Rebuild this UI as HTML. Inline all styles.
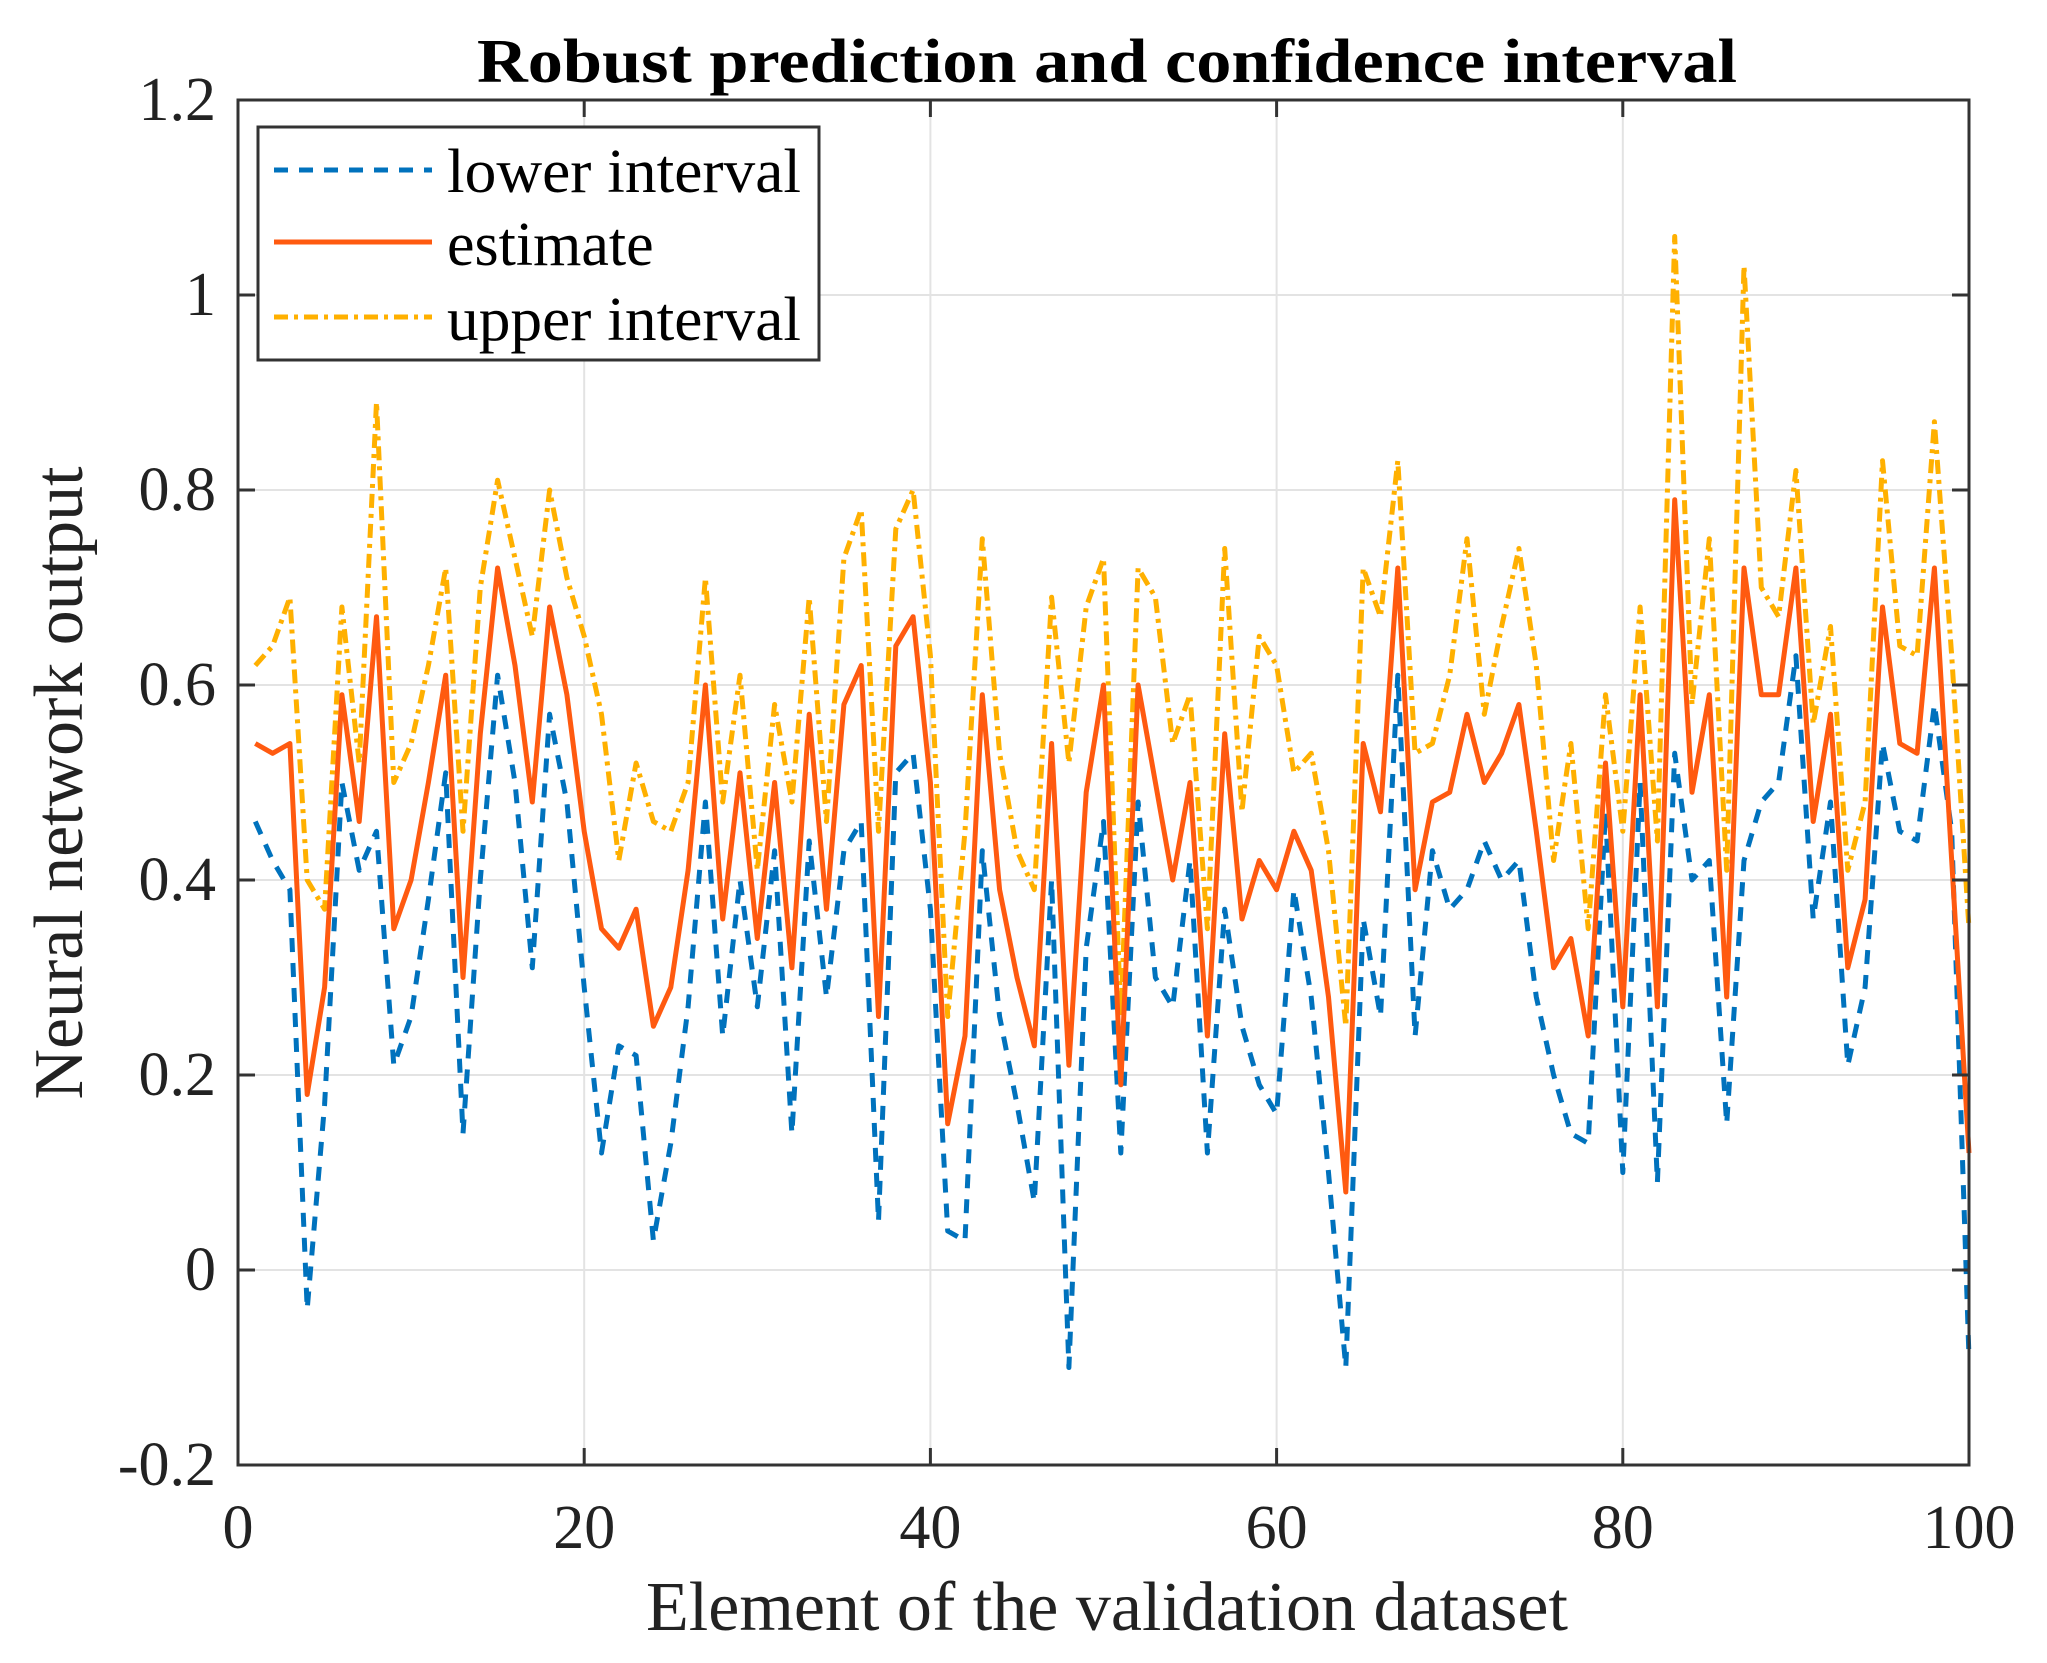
<!DOCTYPE html>
<html><head><meta charset="utf-8"><style>
html,body{margin:0;padding:0;background:#fff;}
svg{display:block;}
text{font-family:"Liberation Serif",serif;fill:#222;}
</style></head><body>
<svg id="s" width="2047" height="1663" viewBox="0 0 2047 1663" xmlns="http://www.w3.org/2000/svg">
<rect width="2047" height="1663" fill="#fff"/>
<g id="grid" stroke="#e3e3e3" stroke-width="2"></g>
<g id="data" fill="none" stroke-width="5" stroke-linejoin="round"></g>
<g id="axes" stroke="#333" stroke-width="3" fill="none"></g>
<g id="labels" font-size="62" text-anchor="middle"></g>
<text x="1107" y="82" font-size="62" font-weight="bold" text-anchor="middle" textLength="1260" lengthAdjust="spacingAndGlyphs" style="fill:#000">Robust prediction and confidence interval</text>
<text x="1107" y="1630" font-size="70" text-anchor="middle" textLength="922" lengthAdjust="spacingAndGlyphs">Element of the validation dataset</text>
<text transform="translate(82,783) rotate(-90)" font-size="70" text-anchor="middle" textLength="633" lengthAdjust="spacingAndGlyphs">Neural network output</text>
<rect x="258" y="127" width="561" height="233" fill="#fff" stroke="#333" stroke-width="3"/>
<line x1="274" y1="170" x2="432" y2="170" stroke="#0072BD" stroke-width="5" stroke-dasharray="14,11"/>
<line x1="274" y1="242" x2="432" y2="242" stroke="#FF5A10" stroke-width="5"/>
<line x1="274" y1="317" x2="432" y2="317" stroke="#FFB000" stroke-width="5" stroke-dasharray="14,6,4,6"/>
<text x="447" y="192" font-size="62" textLength="354" lengthAdjust="spacingAndGlyphs" style="fill:#000">lower interval</text>
<text x="447" y="265" font-size="62" style="fill:#000">estimate</text>
<text x="447" y="340" font-size="62" textLength="354" lengthAdjust="spacingAndGlyphs" style="fill:#000">upper interval</text>
</svg>
<script>
var L=238,R=1969,T=100,B=1465;
function X(i){return L+(R-L)*i/100;}
function Y(v){return B-(B-T)*(v+0.2)/1.4;}
var est=[0.54,0.53,0.54,0.18,0.29,0.59,0.46,0.67,0.35,0.40,0.50,0.61,0.30,0.55,0.72,0.62,0.48,0.68,0.59,0.45,0.35,0.33,0.37,0.25,0.29,0.41,0.60,0.36,0.51,0.34,0.50,0.31,0.57,0.37,0.58,0.62,0.26,0.64,0.67,0.50,0.15,0.24,0.59,0.39,0.30,0.23,0.54,0.21,0.49,0.60,0.19,0.60,0.50,0.40,0.50,0.24,0.55,0.36,0.42,0.39,0.45,0.41,0.28,0.08,0.54,0.47,0.72,0.39,0.48,0.49,0.57,0.50,0.53,0.58,0.45,0.31,0.34,0.24,0.52,0.27,0.59,0.27,0.79,0.49,0.59,0.28,0.72,0.59,0.59,0.72,0.46,0.57,0.31,0.38,0.68,0.54,0.53,0.72,0.42,0.12];
var lo=[0.46,0.42,0.39,-0.04,0.17,0.50,0.41,0.45,0.21,0.26,0.38,0.51,0.14,0.40,0.61,0.50,0.31,0.57,0.48,0.29,0.12,0.23,0.22,0.03,0.13,0.27,0.48,0.24,0.40,0.27,0.43,0.14,0.44,0.28,0.43,0.46,0.05,0.51,0.53,0.37,0.04,0.03,0.43,0.26,0.17,0.07,0.40,-0.10,0.33,0.46,0.12,0.48,0.30,0.27,0.42,0.12,0.37,0.25,0.19,0.16,0.39,0.28,0.10,-0.10,0.36,0.26,0.61,0.24,0.43,0.37,0.39,0.44,0.40,0.42,0.28,0.20,0.14,0.13,0.47,0.10,0.50,0.09,0.53,0.40,0.42,0.15,0.42,0.48,0.50,0.63,0.36,0.48,0.21,0.29,0.54,0.45,0.44,0.58,0.45,-0.09];
var up=[0.62,0.64,0.69,0.40,0.37,0.68,0.52,0.89,0.50,0.54,0.62,0.72,0.45,0.70,0.81,0.73,0.65,0.80,0.71,0.65,0.57,0.42,0.52,0.46,0.45,0.50,0.71,0.48,0.61,0.41,0.58,0.48,0.69,0.46,0.73,0.78,0.45,0.76,0.80,0.63,0.26,0.45,0.75,0.53,0.43,0.39,0.69,0.52,0.68,0.73,0.26,0.72,0.69,0.54,0.59,0.35,0.74,0.47,0.65,0.62,0.51,0.53,0.43,0.25,0.72,0.67,0.83,0.53,0.54,0.61,0.75,0.57,0.66,0.74,0.62,0.42,0.54,0.35,0.59,0.45,0.68,0.44,1.06,0.58,0.75,0.41,1.03,0.70,0.67,0.82,0.56,0.66,0.41,0.48,0.83,0.64,0.63,0.87,0.63,0.35];
var ns="http://www.w3.org/2000/svg";
function el(p,t,a){var e=document.createElementNS(ns,t);for(var k in a)e.setAttribute(k,a[k]);document.getElementById(p).appendChild(e);return e;}
for(var i=0;i<=100;i+=20){el('grid','line',{x1:X(i),y1:T,x2:X(i),y2:B});}
for(var v=-0.2;v<=1.21;v+=0.2){el('grid','line',{x1:L,y1:Y(v),x2:R,y2:Y(v)});}
function pts(a){return a.map(function(v,k){return X(k+1).toFixed(1)+','+Y(v).toFixed(1);}).join(' ');}
el('data','polyline',{points:pts(lo),stroke:'#0072BD','stroke-dasharray':'14,11'});
el('data','polyline',{points:pts(up),stroke:'#FFB000','stroke-dasharray':'14,6,4,6'});
el('data','polyline',{points:pts(est),stroke:'#FF5A10'});
el('axes','rect',{x:L,y:T,width:R-L,height:B-T});
for(var i=0;i<=100;i+=20){el('axes','line',{x1:X(i),y1:B,x2:X(i),y2:B-17});el('axes','line',{x1:X(i),y1:T,x2:X(i),y2:T+17});
 var t=el('labels','text',{x:X(i),y:1548});t.textContent=i;}
var yl=['-0.2','0','0.2','0.4','0.6','0.8','1','1.2'];
for(var k=0;k<8;k++){var v=-0.2+0.2*k;el('axes','line',{x1:L,y1:Y(v),x2:L+17,y2:Y(v)});el('axes','line',{x1:R,y1:Y(v),x2:R-17,y2:Y(v)});
 var t=el('labels','text',{x:216,y:Y(v)+20,'text-anchor':'end'});t.textContent=yl[k];}
</script>
</body></html>
